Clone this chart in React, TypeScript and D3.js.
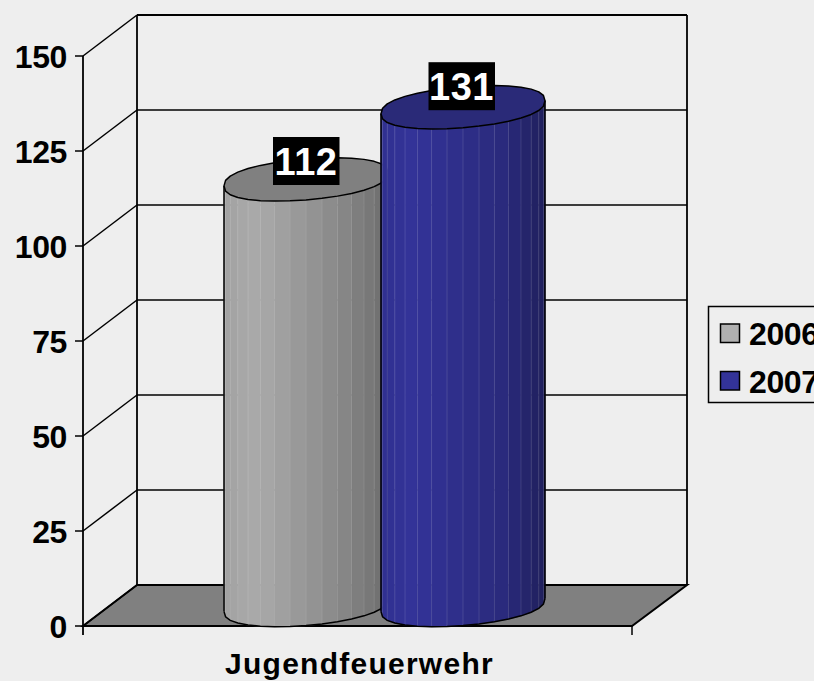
import React from "react";
import * as d3 from "d3";

const categories = ["Jugendfeuerwehr"];
const seriesNames = ["2006", "2007"];
const seriesValues = [112, 131];
const tickValues = [0, 25, 50, 75, 100, 125, 150];
const seriesStops = [
  ["#a2a2a2", "#aaaaaa", "#969696", "#858585", "#6c6c6c"],
  ["#303090", "#333399", "#2e2e88", "#2a2a7c", "#20205c"],
];
const topFills = ["#808080", "#2a2a78"];
const swatchFills = ["#b0b0b0", "#333399"];

const W = 814, H = 681;
const depthX = 54, depthY = -41;
const font = "'Liberation Sans', Arial, sans-serif";

const y = d3.scaleLinear().domain([0, 150]).range([626, 56]);
const xFront = d3.scalePoint().domain(categories).range([357.5, 357.5]);
const xSeries = d3.scalePoint().domain(seriesNames).range([306, 463]);
const rx = 82, ry = 20.5, tilt = 6.5, baseLift = 21;
const FACETS = 32;

function pt(cx: number, cy: number, t: number): [number, number] {
  const s = Math.sin(t);
  const blunt = Math.sign(s) * Math.pow(Math.abs(s), 0.82);
  return [cx + rx * Math.cos(t), cy + ry * blunt - tilt * Math.cos(t)];
}

function Cylinder({ i }: { i: number }) {
  const name = seriesNames[i];
  const cx = xSeries(name) as number;
  const cyBottom = y(0) - baseLift;
  const cyTop = y(seriesValues[i]) - baseLift;
  const color = d3
    .scaleLinear<string>()
    .domain([0, 0.2, 0.5, 0.75, 1])
    .range(seriesStops[i]);
  const angles = d3.range(FACETS / 2 + 1).map((k) => Math.PI - (k * 2 * Math.PI) / FACETS);
  const facets = [];
  for (let k = 0; k < FACETS / 2; k++) {
    const a = pt(cx, cyTop, angles[k]);
    const b = pt(cx, cyTop, angles[k + 1]);
    const c = pt(cx, cyBottom, angles[k + 1]);
    const d = pt(cx, cyBottom, angles[k]);
    const u = ((a[0] + b[0]) / 2 - (cx - rx)) / (2 * rx);
    facets.push(
      <path key={k} d={`M${a}L${b}L${c}L${d}Z`} fill={color(u)} stroke={color(u)} strokeWidth={0.6} />
    );
  }
  const seams = angles.slice(1, -1).map((t, k) => {
    const a = pt(cx, cyTop, t);
    const d = pt(cx, cyBottom, t);
    return (
      <line key={k} x1={a[0]} y1={a[1]} x2={d[0]} y2={d[1]} stroke="#fff" strokeOpacity={0.13} strokeWidth={1} />
    );
  });
  const outlineAngles = d3.range(FACETS / 2 + 1).map((k) => Math.PI - (k * 2 * Math.PI) / FACETS);
  const bottomPts = outlineAngles.map((t) => pt(cx, cyBottom, t));
  const topFront = outlineAngles.map((t) => pt(cx, cyTop, t));
  const line = d3.line();
  const ring = d3.range(FACETS).map((k) => pt(cx, cyTop, (k * 2 * Math.PI) / FACETS));
  const leftT = topFront[0], rightT = topFront[FACETS / 2];
  const leftB = bottomPts[0], rightB = bottomPts[FACETS / 2];
  return (
    <g>
      {facets}
      {seams}
      <path d={line(bottomPts) as string} fill="none" stroke="#000" strokeWidth={1.5} />
      <line x1={leftT[0]} y1={leftT[1]} x2={leftB[0]} y2={leftB[1]} stroke="#000" strokeWidth={1.5} />
      <line x1={rightT[0]} y1={rightT[1]} x2={rightB[0]} y2={rightB[1]} stroke="#000" strokeWidth={1.5} />
      <path d={(line(ring) as string) + "Z"} fill={topFills[i]} stroke="#000" strokeWidth={1.5} strokeLinejoin="round" />
    </g>
  );
}

export default function App() {
  const x0 = 83, x1 = 632;
  const labelDx = [0, -1.5];
  const labelDy = [2.6, 0];
  return (
    <svg width={W} height={H} viewBox={`0 0 ${W} ${H}`} style={{ position: "absolute", left: 0, top: 0, background: "#eeeeee" }} fontFamily={font}>
      <path
        d={`M${x0},${y(0)}L${x1},${y(0)}L${x1 + depthX + 1},${y(0) + depthY}L${x0 + depthX},${y(0) + depthY}Z`}
        fill="#808080"
        stroke="#000"
        strokeWidth={2}
      />
      {tickValues.map((t) => (
        <g key={t} stroke="#000" fill="none">
          <line x1={75} x2={x0} y1={y(t)} y2={y(t)} strokeWidth={1.5} />
          <line x1={x0} x2={x0 + depthX} y1={y(t)} y2={y(t) + depthY} strokeWidth={1.5} />
          <line x1={x0 + depthX} x2={x1 + depthX + 1} y1={y(t) + depthY} y2={y(t) + depthY} strokeWidth={t === 150 ? 2 : 1.5} />
        </g>
      ))}
      <line x1={x0} x2={x0} y1={y(150)} y2={635} stroke="#000" strokeWidth={1.8} />
      <line x1={x0 + depthX} x2={x0 + depthX} y1={y(150) + depthY} y2={y(0) + depthY} stroke="#000" strokeWidth={1.8} />
      <line x1={x1 + depthX + 1} x2={x1 + depthX + 1} y1={y(150) + depthY} y2={y(0) + depthY} stroke="#000" strokeWidth={1.8} />
      <line x1={x1} x2={x1} y1={y(0)} y2={635} stroke="#000" strokeWidth={1.5} />

      {seriesNames.map((_, i) => <Cylinder key={i} i={i} />)}

      {seriesNames.map((name, i) => {
        const cx = (xSeries(name) as number) + labelDx[i];
        const yv = y(seriesValues[i]) + labelDy[i];
        return (
          <g key={name}>
            <rect x={cx - 33} y={yv - 66} width={66.5} height={48} fill="#000" />
            <text x={cx} y={yv - 28} textAnchor="middle" fill="#fff" fontWeight="bold" fontSize={38} letterSpacing={0.5}>
              {seriesValues[i]}
            </text>
          </g>
        );
      })}

      {tickValues.map((t) => (
        <text key={t} x={67} y={y(t) + 11.5} textAnchor="end" fontWeight="bold" fontSize={32} letterSpacing={-0.4} fill="#000">
          {t}
        </text>
      ))}

      {categories.map((c) => (
        <text key={c} x={xFront(c) as number + 2} y={673.5} textAnchor="middle" fontWeight="bold" fontSize={30} letterSpacing={1.25} fill="#000">
          {c}
        </text>
      ))}

      <rect x={708.5} y={306.5} width={130} height={96} fill="#eeeeee" stroke="#000" strokeWidth={1.5} />
      {seriesNames.map((name, i) => (
        <g key={name}>
          <rect x={720.5} y={324 + i * 47.5} width={19} height={18.5} fill={swatchFills[i]} stroke="#000" strokeWidth={1.5} />
          <text x={749} y={345 + i * 47.5} fontWeight="bold" fontSize={32} letterSpacing={-0.4} fill="#000">
            {name}
          </text>
        </g>
      ))}
    </svg>
  );
}
